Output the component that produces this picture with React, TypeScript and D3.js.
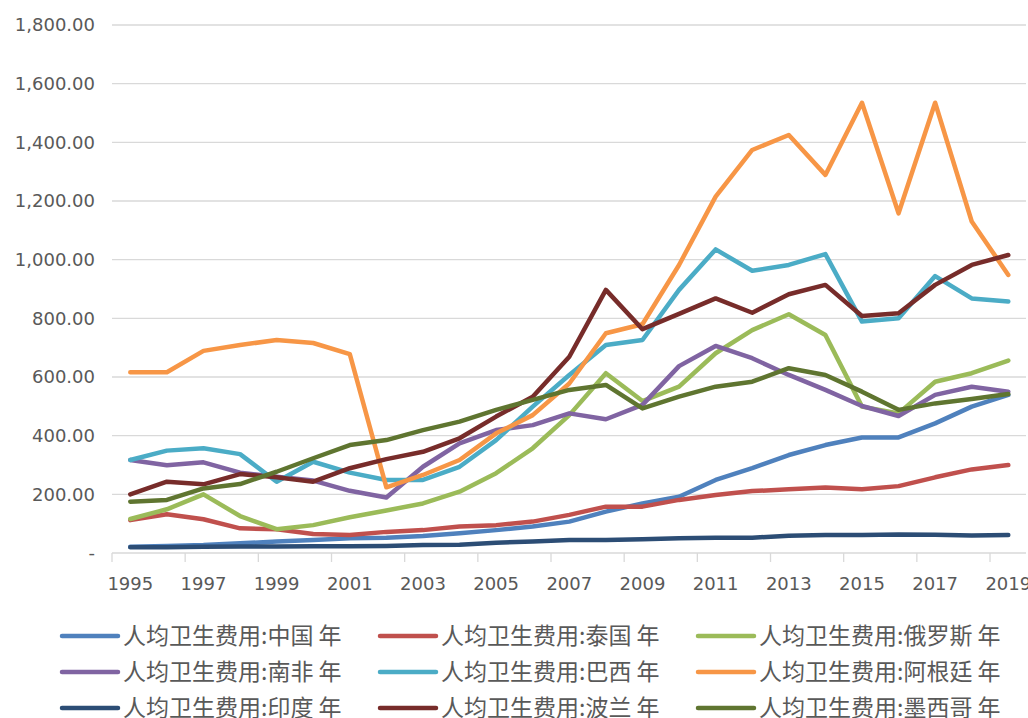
import * as d3 from "d3";
import React, { useRef, useEffect } from "react";

const years = [
  "1995", "1996", "1997", "1998", "1999", "2000", "2001", "2002", "2003",
  "2004", "2005", "2006", "2007", "2008", "2009", "2010", "2011", "2012",
  "2013", "2014", "2015", "2016", "2017", "2018", "2019"
];

const china = [21, 24, 27, 33, 39, 44, 50, 52, 58, 67, 78, 90, 107, 141, 169, 192, 249, 289, 334, 368, 394, 394, 442, 499, 539];
const thailand = [112, 132, 115, 84, 81, 65, 61, 72, 78, 90, 95, 107, 130, 158, 158, 181, 198, 211, 217, 223, 217, 228, 258, 285, 300];
const russia = [116, 149, 200, 126, 81, 95, 122, 145, 169, 209, 272, 357, 470, 613, 518, 567, 681, 760, 814, 743, 499, 476, 584, 613, 656];
const southAfrica = [317, 299, 309, 274, 260, 247, 212, 189, 294, 374, 419, 436, 476, 456, 505, 637, 706, 664, 607, 556, 501, 467, 539, 567, 550];
const brazil = [317, 349, 357, 337, 243, 311, 274, 249, 249, 294, 385, 499, 607, 709, 726, 897, 1035, 962, 982, 1019, 789, 800, 944, 868, 857];
const argentina = [616, 616, 689, 709, 726, 716, 678, 224, 266, 317, 408, 470, 578, 749, 780, 982, 1215, 1374, 1425, 1289, 1535, 1158, 1535, 1130, 948];
const india = [20, 20, 21, 22, 22, 23, 23, 24, 27, 28, 35, 39, 44, 44, 47, 50, 52, 52, 59, 61, 61, 63, 62, 60, 61];
const poland = [200, 243, 234, 269, 258, 243, 289, 320, 345, 391, 465, 533, 669, 897, 763, 815, 868, 819, 882, 914, 808, 817, 914, 982, 1016];
const mexico = [175, 181, 220, 235, 277, 323, 368, 385, 419, 448, 488, 522, 556, 573, 493, 533, 567, 584, 630, 607, 550, 488, 510, 525, 542];

const seriesNames = [
  "人均卫生费用:中国 年", "人均卫生费用:泰国 年", "人均卫生费用:俄罗斯 年",
  "人均卫生费用:南非 年", "人均卫生费用:巴西 年", "人均卫生费用:阿根廷 年",
  "人均卫生费用:印度 年", "人均卫生费用:波兰 年", "人均卫生费用:墨西哥 年"
];
const seriesValues = [china, thailand, russia, southAfrica, brazil, argentina, india, poland, mexico];
const colors = [
  "#4F81BD", "#C0504D", "#9BBB59", "#8064A2", "#4BACC6", "#F79646",
  "#2C4D75", "#772C2A", "#5F7530"
];
const yTicks = [0, 200, 400, 600, 800, 1000, 1200, 1400, 1600, 1800];

export default function App() {
  const ref = useRef<SVGSVGElement>(null);
  const width = 1028;
  const height = 718;

  useEffect(() => {
    draw();
  }, []);

  const draw = () => {
    const svg = d3.select(ref.current);
    svg.selectAll("*").remove();

    const x = d3.scaleBand().domain(years).range([112, 1026.6]);
    const y = d3.scaleLinear().domain([0, 1800]).range([553, 25]);
    const cx = (yr: string) => (x(yr) as number) + x.bandwidth() / 2;
    const textColor = "#595959";

    // gridlines
    svg
      .append("g")
      .selectAll("line")
      .data(yTicks.filter(d => d > 0))
      .enter()
      .append("line")
      .attr("x1", 112)
      .attr("x2", 1026)
      .attr("y1", d => y(d))
      .attr("y2", d => y(d))
      .attr("stroke", "#d9d9d9")
      .attr("stroke-width", 1.3);

    // y labels
    const fmt = d3.format(",.2f");
    svg
      .append("g")
      .selectAll("text")
      .data(yTicks)
      .enter()
      .append("text")
      .attr("x", 95)
      .attr("y", d => y(d))
      .attr("dy", "0.35em")
      .attr("text-anchor", "end")
      .attr("font-family", "DejaVu Sans, sans-serif")
      .attr("font-size", "18px")
      .attr("fill", textColor)
      .text(d => (d === 0 ? "-" : fmt(d)));

    // x axis line + ticks
    svg
      .append("line")
      .attr("x1", 112)
      .attr("x2", 1026)
      .attr("y1", y(0))
      .attr("y2", y(0))
      .attr("stroke", "#d9d9d9")
      .attr("stroke-width", 1.3);

    const tickYears = years.filter((d, i) => i % 2 === 0);
    svg
      .append("g")
      .selectAll("line")
      .data(tickYears)
      .enter()
      .append("line")
      .attr("x1", d => x(d) as number)
      .attr("x2", d => x(d) as number)
      .attr("y1", y(0))
      .attr("y2", y(0) + 9)
      .attr("stroke", "#d9d9d9")
      .attr("stroke-width", 1.3);

    svg
      .append("g")
      .selectAll("text")
      .data(tickYears)
      .enter()
      .append("text")
      .attr("x", d => cx(d))
      .attr("y", 590)
      .attr("text-anchor", "middle")
      .attr("font-family", "DejaVu Sans, sans-serif")
      .attr("font-size", "18px")
      .attr("fill", textColor)
      .text(d => d);

    // lines
    const line = d3
      .line<number>()
      .x((d, i) => cx(years[i]))
      .y(d => y(d));

    svg
      .append("g")
      .selectAll("path")
      .data(seriesValues)
      .enter()
      .append("path")
      .attr("d", d => line(d))
      .attr("fill", "none")
      .attr("stroke", (d, i) => colors[i])
      .attr("stroke-width", 4.5)
      .attr("stroke-linejoin", "round")
      .attr("stroke-linecap", "round");

    // legend
    const colX = [60, 378, 696];
    const rowY = [636, 672, 708];
    const legend = svg
      .append("g")
      .selectAll("g")
      .data(seriesNames)
      .enter()
      .append("g")
      .attr("transform", (d, i) => `translate(${colX[i % 3]},${rowY[Math.floor(i / 3)]})`);

    legend
      .append("line")
      .attr("x1", 2)
      .attr("x2", 58)
      .attr("y1", 0)
      .attr("y2", 0)
      .attr("stroke", (d, i) => colors[i])
      .attr("stroke-width", 4.5)
      .attr("stroke-linecap", "round");

    legend
      .append("text")
      .attr("x", 63)
      .attr("y", 0)
      .attr("dy", "0.35em")
      .attr("font-family", "Noto Sans CJK SC, sans-serif")
      .attr("font-size", "23px")
      .attr("fill", textColor)
      .text(d => d);
  };

  return (
    <div className="chart">
      <svg
        ref={ref}
        width={width}
        height={height}
        style={{ position: "absolute", left: 0, top: 0, background: "#fff" }}
      ></svg>
    </div>
  );
}
